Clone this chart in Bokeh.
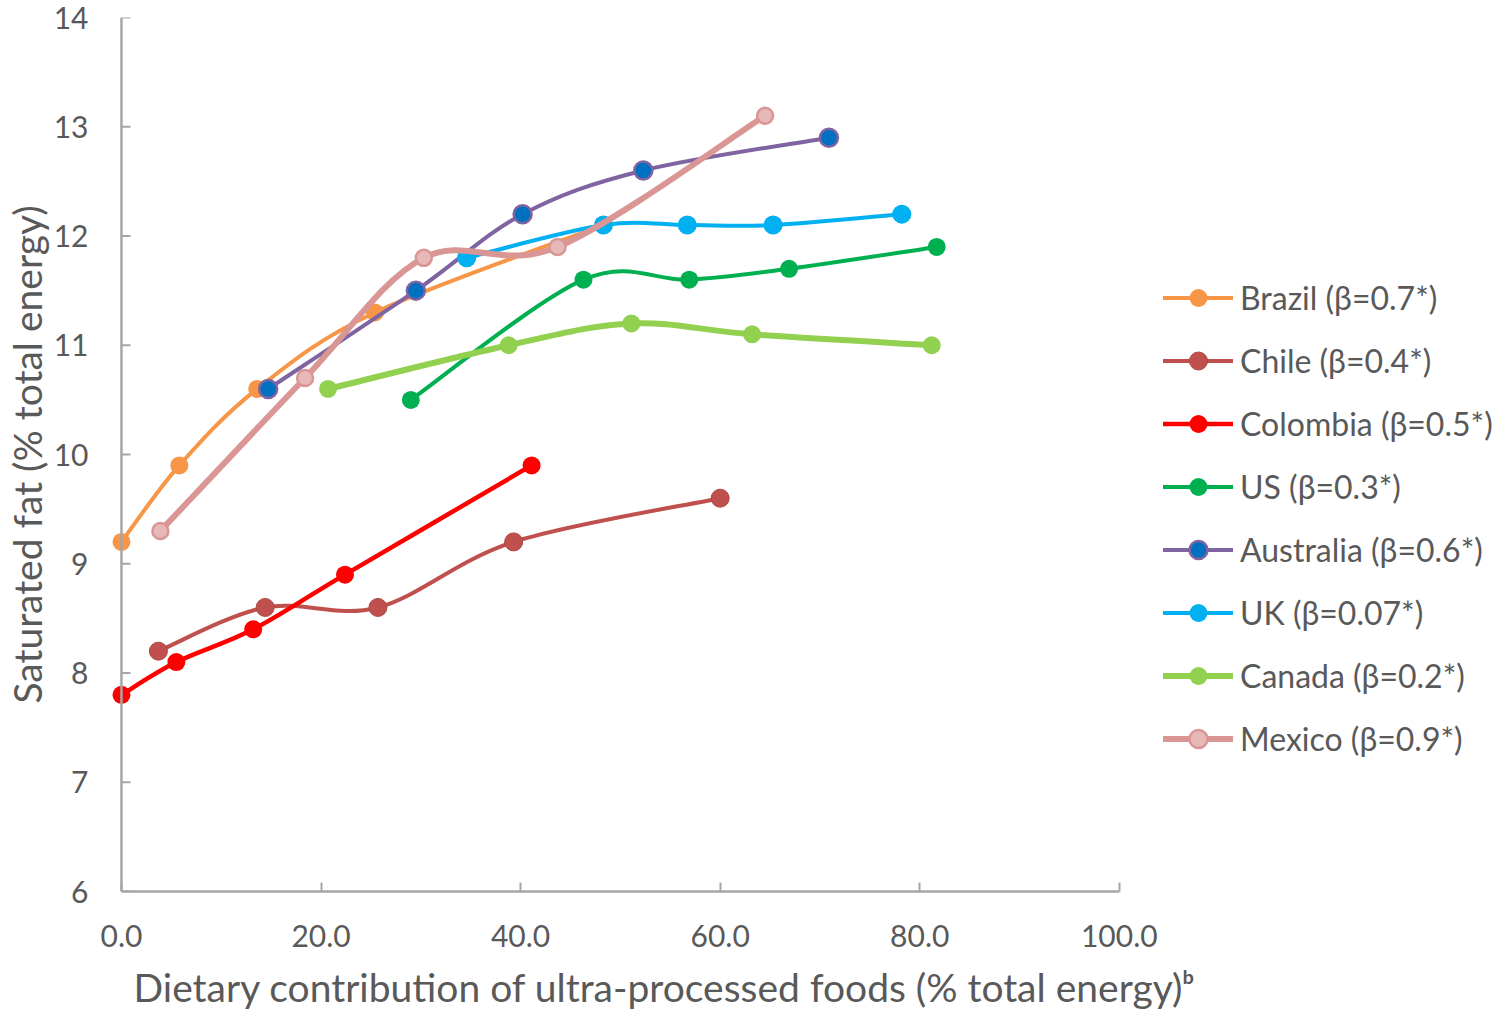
import numpy as np
from bokeh.plotting import figure
from bokeh.models import Range1d, FixedTicker, Legend, LegendItem, NumeralTickFormatter, Span, Title
from bokeh.embed import file_html
from bokeh.resources import INLINE

# ---------------- data ----------------
labels = ["Brazil (β=0.7*)", "Chile (β=0.4*)", "Colombia (β=0.5*)", "US (β=0.3*)",
          "Australia (β=0.6*)", "UK (β=0.07*)", "Canada (β=0.2*)", "Mexico (β=0.9*)"]

brazil_x = [0.0, 5.8, 13.6, 25.4, 48.3]
brazil_y = [9.2, 9.9, 10.6, 11.3, 12.1]

chile_x = [3.7, 14.4, 25.7, 39.3, 60.0]
chile_y = [8.2, 8.6, 8.6, 9.2, 9.6]

colombia_x = [0.0, 5.5, 13.2, 22.4, 41.1]
colombia_y = [7.8, 8.1, 8.4, 8.9, 9.9]

us_x = [29.0, 46.3, 56.9, 66.9, 81.7]
us_y = [10.5, 11.6, 11.6, 11.7, 11.9]

australia_x = [14.7, 29.5, 40.2, 52.3, 70.9]
australia_y = [10.6, 11.5, 12.2, 12.6, 12.9]

uk_x = [34.6, 48.3, 56.7, 65.3, 78.2]
uk_y = [11.8, 12.1, 12.1, 12.1, 12.2]

canada_x = [20.7, 38.8, 51.1, 63.2, 81.2]
canada_y = [10.6, 11.0, 11.2, 11.1, 11.0]

mexico_x = [3.9, 18.4, 30.3, 43.7, 64.5]
mexico_y = [9.3, 10.7, 11.8, 11.9, 13.1]

x_ticks = [0, 20, 40, 60, 80, 100]
y_ticks = [6, 7, 8, 9, 10, 11, 12, 13, 14]

series = [
    # (x, y, line colour, line width, marker fill, marker outline, outline width, size)
    (brazil_x, brazil_y, "#F79646", 4, "#F79646", "#F79646", 0, 18),
    (chile_x, chile_y, "#C0504D", 4, "#C0504D", "#B04643", 1, 18),
    (colombia_x, colombia_y, "#FF0000", 4.5, "#FF0000", "#FF0000", 0, 18),
    (us_x, us_y, "#00B050", 4, "#00B050", "#00B050", 0, 18),
    (australia_x, australia_y, "#8064A2", 4, "#0070C0", "#8064A2", 2.5, 18),
    (uk_x, uk_y, "#00B0F0", 4, "#00B0F0", "#00B0F0", 0, 19),
    (canada_x, canada_y, "#92D050", 6, "#92D050", "#92D050", 0, 18),
    (mexico_x, mexico_y, "#D99694", 6, "#E6B9B8", "#D99694", 2.5, 16),
]

FONT = "Lato"
TXT = "#595959"
AX = "#A6A6A6"

X0 = -1.0            # small pad left of the y axis so x=0 markers are not cut
X1 = 138.2           # frame continues under the legend; axis stops at 100

p = figure(width=1500, height=1021, output_backend="svg", toolbar_location=None,
           x_range=Range1d(X0, X1), y_range=Range1d(6, 14),
           min_border_left=111, min_border_right=0, min_border_top=17, min_border_bottom=128)
p.grid.visible = False
p.outline_line_color = None
p.background_fill_color = "white"

for ax in (p.xaxis[0], p.yaxis[0]):
    ax.major_label_text_font = FONT
    ax.major_label_text_font_size = "30px"
    ax.major_label_text_color = TXT
    ax.minor_tick_line_color = None
    ax.major_tick_out = 0

xa = p.xaxis[0]
xa.ticker = FixedTicker(ticks=x_ticks)
xa.formatter = NumeralTickFormatter(format="0.0")
xa.bounds = (0, 100)
xa.axis_line_color = AX
xa.axis_line_width = 2.5
xa.major_tick_line_color = AX
xa.major_tick_line_width = 2
xa.major_tick_in = 9
xa.major_label_standoff = 33

ya = p.yaxis[0]
ya.ticker = FixedTicker(ticks=y_ticks)
ya.axis_line_color = None
ya.major_tick_line_color = None
ya.major_label_standoff = 23
ya.axis_label = "Saturated fat (% total energy)"
ya.axis_label_text_font = FONT
ya.axis_label_text_font_size = "39px"
ya.axis_label_text_color = TXT
ya.axis_label_text_font_style = "normal"
ya.axis_label_standoff = 1

# y axis line and inward ticks, placed at x = 0
p.add_layout(Span(location=0, dimension="height", line_color=AX, line_width=2.5))
p.ray(x=[0] * len(y_ticks), y=y_ticks, length=9, length_units="screen", angle=0,
      line_color=AX, line_width=2)

p.add_layout(Title(text="Dietary contribution of ultra-processed foods (% total energy)ᵇ",
                   align="left", offset=22, standoff=24, text_font=FONT,
                   text_font_size="39px", text_font_style="normal", text_color=TXT), "below")


def smooth_controls(xs, ys):
    xs = np.asarray(xs, float)
    ys = np.asarray(ys, float)
    n = len(xs)
    xe = np.concatenate([[xs[0]], xs, [xs[-1]]])
    ye = np.concatenate([[ys[0]], ys, [ys[-1]]])
    x0, y0 = xs[:-1], ys[:-1]
    x1, y1 = xs[1:], ys[1:]
    cx0 = x0 + (xe[2:n + 1] - xe[0:n - 1]) / 6.0
    cy0 = y0 + (ye[2:n + 1] - ye[0:n - 1]) / 6.0
    cx1 = x1 - (xe[3:n + 2] - xe[1:n]) / 6.0
    cy1 = y1 - (ye[3:n + 2] - ye[1:n]) / 6.0
    return dict(x0=x0, y0=y0, x1=x1, y1=y1, cx0=cx0, cy0=cy0, cx1=cx1, cy1=cy1)


items = []
for lab, (xs, ys, lc, lw, fc, oc, ow, sz) in zip(labels, series):
    c = smooth_controls(xs, ys)
    br = p.bezier(x0=c["x0"], y0=c["y0"], x1=c["x1"], y1=c["y1"],
                  cx0=c["cx0"], cy0=c["cy0"], cx1=c["cx1"], cy1=c["cy1"],
                  line_color=lc, line_width=lw, line_cap="round")
    sr = p.scatter(x=xs, y=ys, marker="circle", size=sz, fill_color=fc,
                   line_color=oc, line_width=ow if ow else 0.01,
                   line_alpha=1 if ow else 0)
    items.append(LegendItem(label=lab, renderers=[br, sr]))

legend = Legend(items=items, location=(1052, 130), orientation="vertical",
                background_fill_alpha=0, border_line_alpha=0, padding=0, margin=0,
                spacing=18, glyph_width=70, glyph_height=45, label_height=30,
                label_standoff=7, label_text_font=FONT, label_text_font_size="32px",
                label_text_color=TXT)
p.add_layout(legend)

open("out.html", "w").write(file_html(p, INLINE))
